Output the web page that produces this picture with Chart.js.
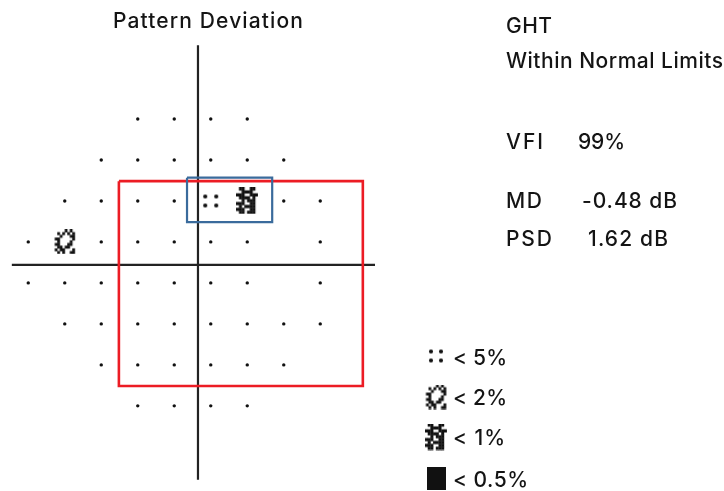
<!DOCTYPE html>
<html>
<head>
<meta charset="utf-8">
<script src="https://cdn.jsdelivr.net/npm/chart.js@4.4.1/dist/chart.umd.min.js"></script>
<style>
html,body{margin:0;padding:0;background:#fff;}
canvas{display:block;}
</style>
</head>
<body>
<canvas id="c" width="724" height="491"></canvas>
<script>
// ---- Data (degrees of visual field) ----
const normalPoints = [
  [-9,21],[-3,21],[3,21],[9,21],
  [-15,15],[-9,15],[-3,15],[3,15],[9,15],[15,15],
  [-21,9],[-15,9],[-9,9],[-3,9],[15,9],[21,9],
  [-27,3],[-15,3],[-9,3],[-3,3],[3,3],[9,3],[21,3],
  [-27,-3],[-21,-3],[-15,-3],[-9,-3],[-3,-3],[3,-3],[9,-3],[21,-3],
  [-21,-9],[-15,-9],[-9,-9],[-3,-9],[3,-9],[9,-9],[15,-9],[21,-9],
  [-15,-15],[-9,-15],[-3,-15],[3,-15],[9,-15],[15,-15],
  [-9,-21],[-3,-21],[3,-21],[9,-21]
];
const p5Points = [[3,9]];
const p2Points = [[-21,3]];
const p1Points = [[9,9]];
const p05Points = [];
const horizAxis = [[-29.7,-0.37],[30,-0.37]];
const vertAxis = [[0.9,31.8],[0.9,-31.8]];
const redBox = [[-12.1,11.9],[28,11.9],[28,-18.1],[-12.1,-18.1],[-12.1,11.9]];
const blueBox = [[-0.9,12.4],[13.1,12.4],[13.1,5.9],[-0.9,5.9],[-0.9,12.4]];
const titleText = "Pattern Deviation";
const indexLabels = ["GHT","Within Normal Limits","VFI","MD","PSD"];
const indexValues = ["99%","-0.48 dB","1.62 dB"];
const legendLabels = ["< 5%","< 2%","< 1%","< 0.5%"];

// ---- Symbol glyphs ----
function dotGlyph(sx,sy){
  const c=document.createElement('canvas');c.width=sx+6;c.height=sy+6;
  const g=c.getContext('2d');g.fillStyle='#111';
  [[3,3],[3+sx,3],[3,3+sy],[3+sx,3+sy]].forEach(p=>{g.beginPath();g.arc(p[0],p[1],2.1,0,Math.PI*2);g.fill();});
  return c;
}
function patGlyph(rows,cw,ch){
  const w=rows[0].length,h=rows.length;
  const c=document.createElement('canvas');c.width=Math.ceil(w*cw);c.height=Math.ceil(h*ch);
  const g=c.getContext('2d');g.fillStyle='#111';
  rows.forEach((r,j)=>{for(let i=0;i<w;i++){if(r[i]==='X'){g.fillRect(i*cw,j*ch,cw+0.3,ch+0.3);}}});
  return c;
}
const g5 = dotGlyph(11,9);
const g5L = dotGlyph(10,9);
const rows2 = [
  ".....X.X..",
  "..X.X.X.X.",
  "...X...XX.",
  ".XX.....X.",
  "..X....X..",
  ".XX...XX..",
  "..XX.XX...",
  ".X.XX...X.",
  "..X.X..XX."
];
const rows1 = [
  ".XX..XX.",
  "..XXXX..",
  "XXX..XXX",
  ".XXXX.X.",
  "..X.XXX.",
  "XXX..XX.",
  ".X.XXXX.",
  "XXX..XX.",
  ".XX.XXX."
];
const g2 = patGlyph(rows2,2.5,2.7);
const g1 = patGlyph(rows1,2.7,2.9);
const g05 = (function(){const c=document.createElement('canvas');c.width=19;c.height=23;const g=c.getContext('2d');g.fillStyle='#111';g.fillRect(0,0,19,23);return c;})();

const toXY = a => a.map(p=>({x:p[0],y:p[1]}));

function fitText(ctx,txt,x,y,size,width){
  ctx.font = '500 '+size+'px Inter, "Liberation Sans", Arial, sans-serif';
  ctx.letterSpacing='0px';
  const m = ctx.measureText(txt).width;
  if(width && txt.length>1){
    ctx.letterSpacing = ((width-m)/(txt.length-1)).toFixed(2)+'px';
  }
  ctx.fillText(txt,x,y);
  ctx.letterSpacing='0px';
}

const textPlugin = {
  id:'texts',
  afterDraw(chart){
    const ctx=chart.ctx;
    ctx.save();
    ctx.fillStyle='#141414';
    ctx.textBaseline='alphabetic';
    ctx.textAlign='left';
    const fs=21;
    fitText(ctx,titleText,113,28,fs,190);
    fitText(ctx,indexLabels[0],506,33,fs,46);
    fitText(ctx,indexLabels[1],506,68,fs,217);
    fitText(ctx,indexLabels[2],506,149,fs,37);
    fitText(ctx,indexValues[0],578,149,fs,47);
    fitText(ctx,indexLabels[3],506,208,fs,36);
    fitText(ctx,indexValues[1],582,208,fs,95);
    fitText(ctx,indexLabels[4],506,246,fs,46);
    fitText(ctx,indexValues[2],588,246,fs,80);
    // legend
    const glyphs=[g5L,g2,g1,g05];
    const gy=[356,397,437,478];
    const ty=[365,405,445,487];
    const tw=[54,54,52,75];
    glyphs.forEach((g,i)=>{ctx.drawImage(g,436-g.width/2,gy[i]-g.height/2);});
    legendLabels.forEach((t,i)=>fitText(ctx,t,453,ty[i],fs,tw[i]));
    ctx.restore();
  }
};

const lineDS = (data,color,width,order)=>({
  data:toXY(data),showLine:true,borderColor:color,borderWidth:width,pointRadius:0,
  tension:0,fill:false,order:order,clip:false
});
const ptDS = (data,style,r,order)=>({
  data:toXY(data),showLine:false,pointStyle:style,pointRadius:r,
  backgroundColor:'#111',borderColor:'#111',borderWidth:0,order:order,clip:false
});

new Chart(document.getElementById('c'),{
  type:'scatter',
  data:{datasets:[
    lineDS(horizAxis,'#222',2.2,10),
    lineDS(vertAxis,'#222',2.2,10),
    lineDS(redBox,'#ec1c24',2.6,8),
    lineDS(blueBox,'#3a6b9c',2.2,7),
    ptDS(normalPoints,'circle',1.7,1),
    ptDS(p5Points,g5,6,1),
    ptDS(p2Points,g2,10,1),
    ptDS(p1Points,g1,10,1),
    ptDS(p05Points,g05,10,1)
  ]},
  options:{
    responsive:false,animation:false,
    events:[],
    layout:{padding:{left:10,right:349,top:43.83,bottom:9.83}},
    plugins:{legend:{display:false},tooltip:{enabled:false},title:{display:false}},
    scales:{
      x:{type:'linear',min:-30,max:30,display:false},
      y:{type:'linear',min:-32,max:32,display:false}
    }
  },
  plugins:[textPlugin]
});
</script>
</body>
</html>
